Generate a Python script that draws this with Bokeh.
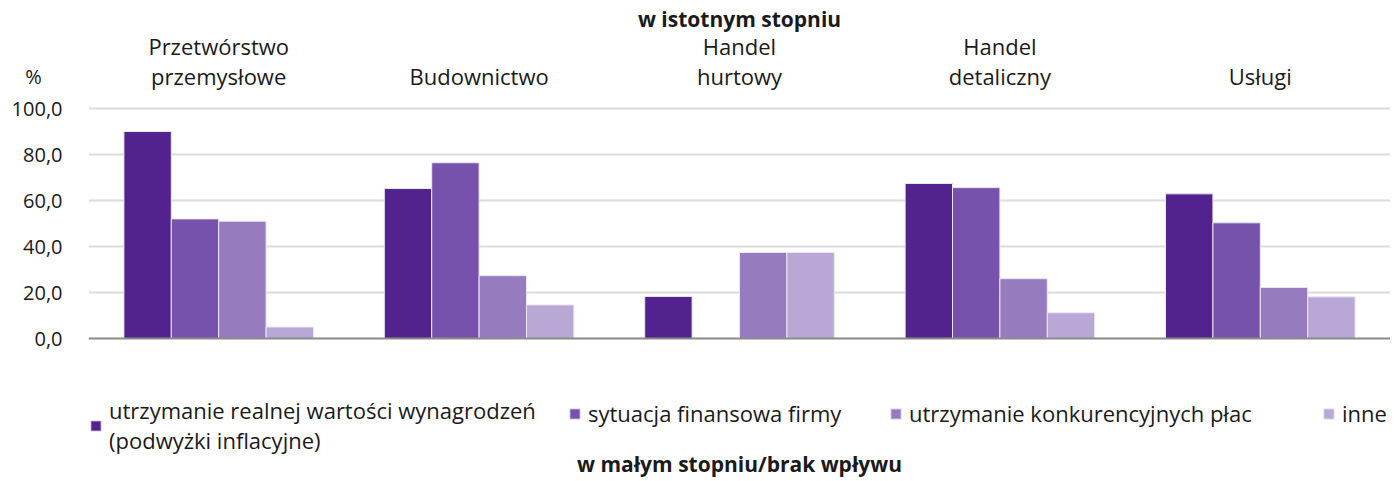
import numpy as np
from bokeh.plotting import figure
from bokeh.models import (ColumnDataSource, Legend, LegendItem, Span, Label,
                          FixedTicker, Range1d, FactorRange)
from bokeh.core.properties import value
from bokeh.transform import dodge
from bokeh.embed import file_html
from bokeh.resources import INLINE

categories = ["Przetwórstwo\nprzemysłowe", "Budownictwo", "Handel\nhurtowy",
              "Handel\ndetaliczny", "Usługi"]
series_names = ["utrzymanie realnej wartości wynagrodzeń\n(podwyżki inflacyjne)",
                "sytuacja finansowa firmy",
                "utrzymanie konkurencyjnych płac",
                "inne"]
s1 = [90.0, 65.2, 18.3, 67.4, 62.9]
s2 = [52.0, 76.4, np.nan, 65.6, 50.3]
s3 = [51.0, 27.3, 37.4, 26.0, 22.2]
s4 = [5.0, 14.6, 37.4, 11.2, 18.1]
colors = ["#52238f", "#7652ad", "#967cbf", "#b9a8d6"]
y_ticks = [0, 20, 40, 60, 80, 100]
y_tick_labels = ["0,0", "20,0", "40,0", "60,0", "80,0", "100,0"]
unit_label = "%"
top_title = "w istotnym stopniu"
bottom_title = "w małym stopniu/brak wpływu"

FONT = "Open Sans"
TXT = "#1a1a1a"
PX = 2.3            # pixels per percentage point
FRAME_TOP, ZERO_Y, FIG_H = 34, 338, 478
UNIT_TICK = 114

src = ColumnDataSource(dict(cat=categories, s1=np.array(s1), s2=np.array(s2),
                            s3=np.array(s3), s4=np.array(s4)))

y_lo = -(FIG_H - ZERO_Y) / PX
y_hi = (ZERO_Y - FRAME_TOP) / PX
p = figure(frame_width=1302, frame_height=FIG_H - FRAME_TOP,
           x_range=FactorRange(*categories), y_range=Range1d(y_lo, y_hi),
           x_axis_location=None, output_backend="svg", toolbar_location=None,
           min_border_left=88, min_border_right=0, min_border_top=FRAME_TOP,
           min_border_bottom=0)
p.outline_line_color = None
p.background_fill_color = "white"
p.border_fill_color = "white"

p.title.text = top_title
p.title.align = "center"
p.title.text_font = FONT
p.title.text_font_style = "bold"
p.title.text_font_size = "21px"
p.title.text_color = TXT
p.title.standoff = 4

w = 0.182
offs = [-1.5 * w, -0.5 * w, 0.5 * w, 1.5 * w]
renderers = []
for i, key in enumerate(["s1", "s2", "s3", "s4"]):
    r = p.vbar(x=dodge("cat", offs[i], range=p.x_range), top=key, bottom=0,
               width=w, source=src, fill_color=colors[i],
               line_color="#ece6f4", line_width=1)
    renderers.append(r)

# category labels above the bars
p.text(x="cat", y=107.8, text="cat", source=src, text_font=value(FONT),
       text_font_size="22px", text_color=TXT, text_align="center",
       text_baseline="bottom", text_line_height=0.98)

ya = p.yaxis[0]
ya.ticker = FixedTicker(ticks=y_ticks + [UNIT_TICK])
overrides = {t: l for t, l in zip(y_ticks, y_tick_labels)}
overrides[UNIT_TICK] = unit_label + "\u00a0" * 4
ya.major_label_overrides = overrides
ya.axis_line_color = None
ya.major_tick_line_color = None
ya.minor_tick_line_color = None
ya.major_label_text_font = FONT
ya.major_label_text_font_size = "20px"
ya.major_label_text_color = TXT
ya.major_label_standoff = 20

p.xgrid.grid_line_color = None
p.ygrid.ticker = FixedTicker(ticks=y_ticks[1:])
p.ygrid.grid_line_color = "#dcdcdc"
p.ygrid.grid_line_width = 2

p.add_layout(Span(location=0, dimension="width", line_color="#8a8a8a", line_width=2))

leg_kw = dict(orientation="horizontal", label_text_font=FONT, label_text_font_size="22px",
              label_text_color=TXT, label_text_line_height=0.88,
              glyph_width=13, glyph_height=13, label_standoff=7,
              border_line_color=None, background_fill_alpha=0, padding=0, margin=0)
leg_x = [1, 480, 801, 1234]
for i in range(4):
    n_lines = series_names[i].count("\n") + 1
    bottom = (FIG_H - 401) - n_lines * 27
    lg = Legend(items=[LegendItem(label=series_names[i], renderers=[renderers[i]])],
                location=(leg_x[i], bottom), **leg_kw)
    p.add_layout(lg)

p.add_layout(Label(x=2.5, y=-(463 - ZERO_Y) / PX, text=bottom_title, text_font=FONT,
                   text_font_style="bold", text_font_size="21px", text_color=TXT,
                   text_align="center", text_baseline="middle"))

open("out.html", "w").write(file_html(p, INLINE))
